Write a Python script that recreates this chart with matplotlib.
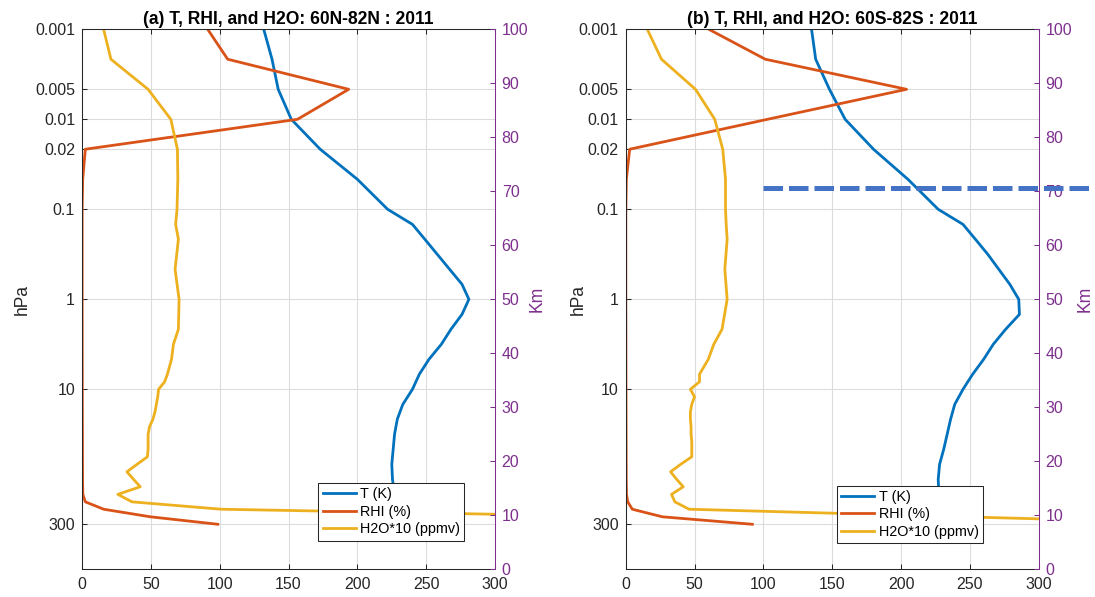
import numpy as np
import matplotlib
matplotlib.use('Agg')
import matplotlib.pyplot as plt
from matplotlib.ticker import FixedLocator, FixedFormatter, NullLocator

plt.rcParams['font.family'] = ['Liberation Sans', 'DejaVu Sans']

# Pressure levels (hPa) for each quantity
p_T = [0.001, 0.00215, 0.00464, 0.01, 0.0215, 0.0464, 0.1, 0.147, 0.215, 0.316,
       0.464, 0.681, 1.0, 1.47, 2.15, 3.16, 4.64, 6.81, 10, 14.7, 21.5, 31.6,
       46.4, 68.1, 100, 147, 215, 261]
p_H2O = [0.001, 0.00215, 0.00464, 0.01, 0.0215, 0.0464, 0.1, 0.147, 0.215, 0.464,
         1.0, 2.15, 3.16, 4.64, 6.81, 8.25, 10, 12.1, 14.7, 17.8, 21.5, 26.1,
         31.6, 38.3, 46.4, 56.2, 68.1, 82.5, 100, 121, 147, 178, 215, 261, 316]
p_RHI = [0.001, 0.00215, 0.00464, 0.01, 0.0215, 0.0464, 0.1, 1, 10, 100,
         147, 178, 215, 261, 316]

# (a) 60N-82N
T_north = [132, 138, 142.5, 152, 173, 200, 222, 240, 249, 258, 267, 276, 281, 276,
           268, 261, 252, 245, 240, 233, 229, 227, 226, 225, 225.5, 227, 226, 225]
RHI_north = [91.3, 105.8, 193.7, 156.5, 2.4, 0.5, 0.1, 0.1, 0.2, 0.4,
             0.6, 2.4, 15.7, 49.6, 98.6]
H2O_north = [15.7, 21, 48, 64.5, 69.3, 69.6, 69, 68, 70, 67.6, 70.5, 70, 66.4, 65,
             62, 60, 55.6, 55, 54, 53, 51.5, 49, 48, 48, 48, 47.5, 40, 32.6, 37.4,
             42.3, 26, 36.3, 101, 400, 800]

# (b) 60S-82S
T_south = [135, 138, 148, 159.4, 180, 205, 227, 245, 254, 263, 271, 279, 285.5, 286,
           276, 267, 260, 252, 245, 239, 236, 233.5, 231, 228, 227, 227.5, 227, 226]
RHI_south = [60.4, 101.4, 204, 103, 2.9, 0.5, 0.1, 0.1, 0.2, 0.4,
             0.6, 1.5, 4.8, 26.6, 92]
H2O_south = [15.7, 26, 50.7, 64.7, 70.5, 72.5, 72.5, 73, 73.7, 72, 73.7, 70, 64, 60,
             53.6, 53.6, 47, 50, 48, 47, 47, 47.5, 47.5, 48, 48, 48, 40, 32.6, 37,
             41.8, 33.3, 35.7, 46, 245, 445]

titles = ['(a) T, RHI, and H2O: 60N-82N : 2011', '(b) T, RHI, and H2O: 60S-82S : 2011']
labels = ['T (K)', 'RHI (%)', 'H2O*10 (ppmv)']

p_ticks = [0.001, 0.00464, 0.01, 0.0215, 0.1, 1, 10, 316.2]
p_ticklabels = ['0.001', '0.005', '0.01', '0.02', '0.1', '1', '10', '300']
km_ticks = list(range(0, 101, 10))

# dashed marker line in panel (b)
dash_km = 70.7
dash_x = [100, 345]

c_T, c_RHI, c_H2O = '#0072BD', '#D95319', '#EDB120'
purple = '#7E2F8E'
dark = '#262626'
fs = 11.5

fig = plt.figure(figsize=(10.95, 5.97), dpi=100)

panels = [
    dict(left=0.0749, T=T_north, RHI=RHI_north, H2O=H2O_north, leg=(0.926, 0.053), hpa_x=-0.145, km_x=1.102),
    dict(left=0.5714, T=T_south, RHI=RHI_south, H2O=H2O_south, leg=(0.865, 0.048), hpa_x=-0.1155, km_x=1.112),
]

for i, pan in enumerate(panels):
    ax = fig.add_axes([pan['left'], 0.0464, 0.3772, 0.9045])
    l1, = ax.plot(pan['T'], p_T, color=c_T, lw=2)
    l2, = ax.plot(pan['RHI'], p_RHI, color=c_RHI, lw=2)
    l3, = ax.plot(pan['H2O'], p_H2O, color=c_H2O, lw=2)
    ax.set_yscale('log')
    ax.set_ylim(1000, 0.001)
    ax.set_xlim(0, 300)
    ax.xaxis.set_major_locator(FixedLocator([0, 50, 100, 150, 200, 250, 300]))
    ax.yaxis.set_major_locator(FixedLocator(p_ticks))
    ax.yaxis.set_major_formatter(FixedFormatter(p_ticklabels))
    ax.yaxis.set_minor_locator(NullLocator())
    ax.grid(True, color='#dcdcdc', lw=0.8)
    ax.set_axisbelow(True)
    ax.tick_params(axis='x', direction='in', top=True, length=3.6, width=0.75,
                   colors=dark, labelsize=fs, pad=5.5)
    ax.tick_params(axis='y', direction='in', left=True, right=False, length=3.6,
                   width=0.75, colors=dark, labelsize=fs, pad=5)
    for s in ['left', 'bottom', 'top']:
        ax.spines[s].set_color(dark)
        ax.spines[s].set_linewidth(0.75)
    ax.spines['right'].set_visible(False)
    ax.set_ylabel('hPa', fontsize=fs * 1.1, color=dark, va='center')
    ax.yaxis.set_label_coords(pan['hpa_x'], 0.5)
    ax.set_title(titles[i], fontsize=fs * 1.1, fontweight='bold', color='black', pad=4)

    ax2 = ax.twinx()
    ax2.set_ylim(0, 100)
    ax2.yaxis.set_major_locator(FixedLocator(km_ticks))
    ax2.tick_params(axis='y', direction='in', length=3.6, width=0.75,
                    colors=purple, labelsize=fs, pad=4.8)
    for s in ['left', 'bottom', 'top']:
        ax2.spines[s].set_visible(False)
    ax2.spines['right'].set_color(purple)
    ax2.spines['right'].set_linewidth(0.75)
    ax2.set_ylabel('Km', fontsize=fs * 1.1, color=purple, rotation=90, va='center')
    ax2.yaxis.set_label_coords(pan['km_x'], 0.5)

    if i == 1:
        ax2.plot(dash_x, [dash_km, dash_km], color='#4472C4', lw=3.6,
                 ls=(0, (3.9, 1.2)), clip_on=False)

    leg = ax2.legend([l1, l2, l3], labels, loc='lower right', bbox_to_anchor=pan['leg'],
                     borderaxespad=0, fontsize=fs * 0.9, fancybox=False, framealpha=1,
                     edgecolor=dark, handlelength=2.3, handletextpad=0.3,
                     labelspacing=0.25, borderpad=0.3)
    leg.get_frame().set_linewidth(0.75)

fig.savefig('out.png', dpi=100)
